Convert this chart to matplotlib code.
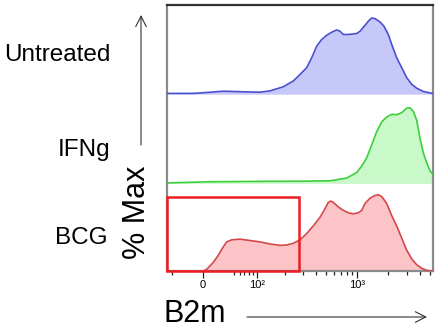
import numpy as np
import matplotlib
matplotlib.use("Agg")
import matplotlib.pyplot as plt
from matplotlib.patches import Rectangle, FancyArrowPatch

plt.rcParams['font.family'] = ['Liberation Sans', 'DejaVu Sans']

# ---- data (% of max, B2m fluorescence) ----
untreated_x = [-59, -15, 10, 30, 76, 108, 139, 190, 241, 281, 326, 365, 408, 456, 511,
               570, 637, 685, 738, 823, 992, 1067, 1192, 1282, 1382, 1487, 1660, 1812,
               1993, 2177, 2398, 2677, 2991, 3340, 3729, 4315, 5340]
untreated_y = [1, 1, 2.5, 3.9, 3.0, 2.6, 4.3, 9.6, 17.4, 26, 34.8, 47.8, 63, 71.7, 77.4,
               81.3, 84.3, 82.6, 78.3, 78.3, 79.6, 82.6, 90.4, 95.7, 100, 99.1, 94.8, 89.1,
               78.3, 63, 47.8, 34.8, 21.7, 13, 7.8, 3.5, 0.9]

ifng_x = [-59, 10, 108, 300, 549, 795, 992, 1108, 1237, 1382, 1542, 1724, 1924, 2148,
          2398, 2677, 2991, 3216, 3457, 3729, 4009, 4315, 4650, 4998, 5340]
ifng_y = [0.5, 2.1, 2.6, 2.8, 3.4, 6.9, 14.2, 22.7, 33.5, 50.6, 67.8, 80.7, 87.1, 90.6,
          90.1, 92.7, 98.7, 99.1, 94.4, 82.8, 59.2, 39.9, 27, 16.3, 12]

bcg_x = [-59, 0.4, 5.5, 10.4, 15.4, 22.9, 31, 36.6, 45.3, 60.9, 82.5, 108, 139, 177, 207,
         241, 281, 326, 378, 440, 491, 529, 557, 591, 660, 738, 823, 920, 1027, 1108,
         1192, 1330, 1487, 1599, 1724, 1924, 2148, 2398, 2677, 2991, 3340, 3729, 4160,
         4650, 5340]
bcg_y = [0, 0, 2.3, 6.8, 11.4, 20.5, 31.8, 38.2, 40.9, 41.8, 40, 38.2, 35.5, 33.6, 34.1,
         36.4, 40.9, 49.1, 59.1, 70.5, 81.8, 90, 91.8, 90, 84.1, 79.5, 76.4, 75, 76.4,
         79.5, 88.6, 95.5, 99.1, 100, 97.7, 88.6, 72.7, 59.1, 43.2, 27.3, 15.9, 8.2, 3.6,
         0.9, 0]

samples = ["Untreated", "IFNg", "BCG"]
gate_range = [-59, 275]   # B2m-low gate on BCG
gate_height = 97

major_ticks = [0, 100, 1000]
major_labels = ["0", "10²", "10³"]
minor_ticks = [-50, 50, 60, 70, 80, 90, 200, 300, 400, 500, 600, 700, 800, 900,
               2000, 3000, 4000, 5000]

# ---- figure ----
W, H = 436, 328
fig = plt.figure(figsize=(W / 100, H / 100), dpi=100)
ax = fig.add_axes([167 / W, 1 - 271 / H, 266 / W, 266 / H])

k = 67.0
ax.set_xscale('function', functions=(lambda x: np.arcsinh(np.asarray(x) / k),
                                     lambda y: k * np.sinh(np.asarray(y))))
ax.set_xlim(-59, 5340)
ax.set_ylim(0, 349)

series = [
    (untreated_x, untreated_y, 232, '#4b50cf', '#c6c8fa'),
    (ifng_x, ifng_y, 115, '#3ccf3c', '#c9f9c9'),
    (bcg_x, bcg_y, 0, '#d5474b', '#fcc4c6'),
]
for x, y, off, lc, fc in series:
    x = np.asarray(x, float)
    y = np.asarray(y, float) + off
    ax.fill_between(x, off, y, color=fc, lw=0, zorder=2)
    ax.plot(x, y, color=lc, lw=1.2, zorder=3, solid_joinstyle='round')

ax.add_patch(Rectangle((gate_range[0], 0), gate_range[1] - gate_range[0], gate_height,
                       fill=False, edgecolor='#ee1c24', lw=1.8, zorder=5, clip_on=False))

for s in ['left', 'right', 'bottom']:
    ax.spines[s].set_color('#8a8a8a')
    ax.spines[s].set_linewidth(1.6)
ax.spines['top'].set_color('#333333')
ax.spines['top'].set_linewidth(1.6)

ax.set_yticks([])
ax.set_xticks(major_ticks)
ax.set_xticklabels(major_labels, fontsize=8)
ax.set_xticks(minor_ticks, minor=True)
ax.tick_params(axis='x', which='major', length=5, width=0.9, color='#222222', pad=1.5)
ax.tick_params(axis='x', which='minor', length=3, width=0.9, color='#222222')

# ---- labels ----
fig.text(110 / W, 1 - 55 / H, samples[0], ha='right', va='center', fontsize=17.5)
fig.text(110 / W, 1 - 150 / H, samples[1], ha='right', va='center', fontsize=17.5)
fig.text(108 / W, 1 - 238 / H, samples[2], ha='right', va='center', fontsize=17.5)
fig.text(137 / W, 1 - 212 / H, "% Max", rotation=90, ha='center', va='center', fontsize=22)
fig.text(163 / W, 1 - 314 / H, "B2m", ha='left', va='center', fontsize=22)

arrow_kw = dict(arrowstyle='->,head_length=0.75,head_width=0.38', color='#333333',
                lw=0.8, mutation_scale=10, shrinkA=0, shrinkB=0)
fig.add_artist(FancyArrowPatch((141 / W, 1 - 145 / H), (141 / W, 1 - 15 / H),
                               transform=fig.transFigure, **arrow_kw))
fig.add_artist(FancyArrowPatch((247 / W, 1 - 317 / H), (427 / W, 1 - 317 / H),
                               transform=fig.transFigure, **arrow_kw))

fig.savefig('out.png', dpi=100)
